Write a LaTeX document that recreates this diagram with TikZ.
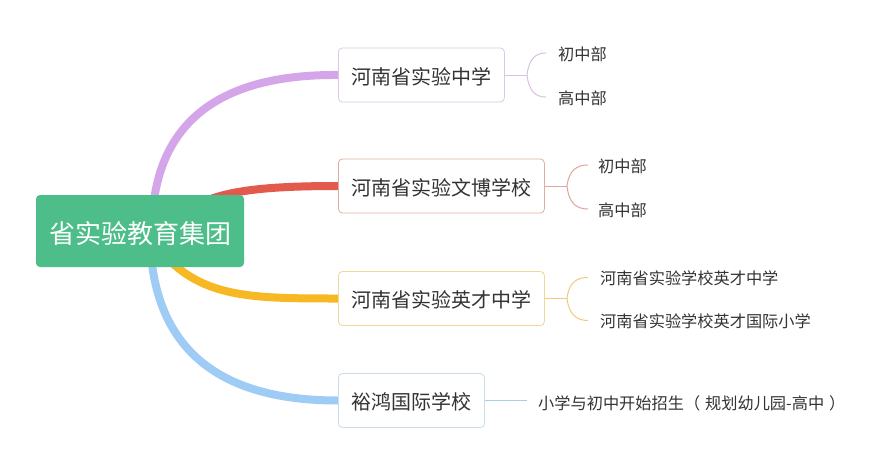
\documentclass[tikz,border=0pt]{standalone}
\usepackage{fontspec}
\setmainfont{Noto Sans CJK SC}
\definecolor{rootg}{HTML}{4DBE89}
\definecolor{cpur}{HTML}{D4A6E9}
\definecolor{cred}{HTML}{E25A4C}
\definecolor{cyel}{HTML}{F7B923}
\definecolor{cblu}{HTML}{9FCCF5}
\definecolor{bpur}{HTML}{DCC9E6}
\definecolor{bred}{HTML}{E2ADA5}
\definecolor{byel}{HTML}{F2D896}
\definecolor{bblu}{HTML}{C9DDEB}
\definecolor{lpur}{HTML}{D9BFE6}
\definecolor{lred}{HTML}{E0A69B}
\definecolor{lyel}{HTML}{EFCB80}
\definecolor{lblu}{HTML}{A9CCE7}
\definecolor{txt}{HTML}{333333}
\tikzset{
  rootbox/.style={fill=rootg, rounded corners=4pt, text=white, font=\fontsize{26}{30}\selectfont,
    inner xsep=13pt, minimum height=72pt, text height=24.8pt, text depth=0pt, anchor=center},
  topicbox/.style={draw, fill=white, line width=0.8pt, rounded corners=4pt, text=txt,
    font=\fontsize{20}{24}\selectfont, inner xsep=13pt, minimum height=54pt,
    text height=18.2pt, text depth=0pt, anchor=west},
  leaf/.style={text=txt, font=\fontsize{16.2}{19}\selectfont, inner xsep=10pt, inner ysep=0pt,
    text height=14.4pt, text depth=0pt, anchor=west},
  branch/.style={line width=8pt, line cap=round},
  thin/.style={line width=1pt}
}
\begin{document}
\begin{tikzpicture}[x=1pt, y=-1pt]
\useasboundingbox (0,0) rectangle (891,466);
\fill[white] (0,0) rectangle (891,466);
% anchors for main branches
\coordinate (sP) at (152,231);
\coordinate (sR) at (180,220);
\coordinate (sY) at (160,250);
\coordinate (sB) at (150,231);
% topic box positions
\path (338,75) coordinate (p1) (338,186) coordinate (p2) (338,298.5) coordinate (p3) (338,400.5) coordinate (p4);
% main branches (behind boxes)
\draw[branch, cpur] (sP) .. controls (152,127) and (214,74) .. (p1);
\draw[branch, cred] (sR) .. controls (200,192) and (255,186) .. (p2);
\draw[branch, cyel] (sY) .. controls (200,298) and (250,298.5) .. (p3);
\draw[branch, cblu] (sB) .. controls (150,344) and (213,400.5) .. (p4);
% topic boxes
\node[topicbox, draw=bpur] (b1) at (p1) {河南省实验中学};
\node[topicbox, draw=bred] (b2) at (p2) {河南省实验文博学校};
\node[topicbox, draw=byel] (b3) at (p3) {河南省实验英才中学};
\node[topicbox, draw=bblu] (b4) at (p4) {裕鸿国际学校};
% root
\node[rootbox] (root) at (140,231) {省实验教育集团};
% junctions
\coordinate (j1) at (527,75);
\coordinate (j2) at (567,186);
\coordinate (j3) at (567,298.5);
% leaves
\node[leaf, inner xsep=12pt] (l1a) at (546,53) {初中部};
\node[leaf, inner xsep=12pt] (l1b) at (546,97) {高中部};
\node[leaf] (l2a) at (588,165) {初中部};
\node[leaf] (l2b) at (588,209) {高中部};
\node[leaf, inner xsep=12pt] (l3a) at (588,277.5) {河南省实验学校英才中学};
\node[leaf, inner xsep=12pt] (l3b) at (588,320.5) {河南省实验学校英才国际小学};
\node[leaf, inner xsep=11pt] (l4) at (527,402.5) {小学与初中开始招生（\hspace{5pt}规划幼儿园-高中\hspace{5pt}）};
% leaf connectors
\draw[thin, lpur] (b1.east) -- (j1);
\draw[thin, lpur] (j1) .. controls (529,58) and (536,53) .. (l1a.west);
\draw[thin, lpur] (j1) .. controls (529,92) and (536,97) .. (l1b.west);
\draw[thin, lred] (b2.east) -- (j2);
\draw[thin, lred] (j2) .. controls (569,170) and (577,165) .. (l2a.west);
\draw[thin, lred] (j2) .. controls (569,204) and (577,209) .. (l2b.west);
\draw[thin, lyel] (b3.east) -- (j3);
\draw[thin, lyel] (j3) .. controls (569,282) and (577,277.5) .. (l3a.west);
\draw[thin, lyel] (j3) .. controls (569,315) and (577,320.5) .. (l3b.west);
\draw[thin, lblu] (b4.east) -- (b4.east -| l4.west);
\end{tikzpicture}
\end{document}
